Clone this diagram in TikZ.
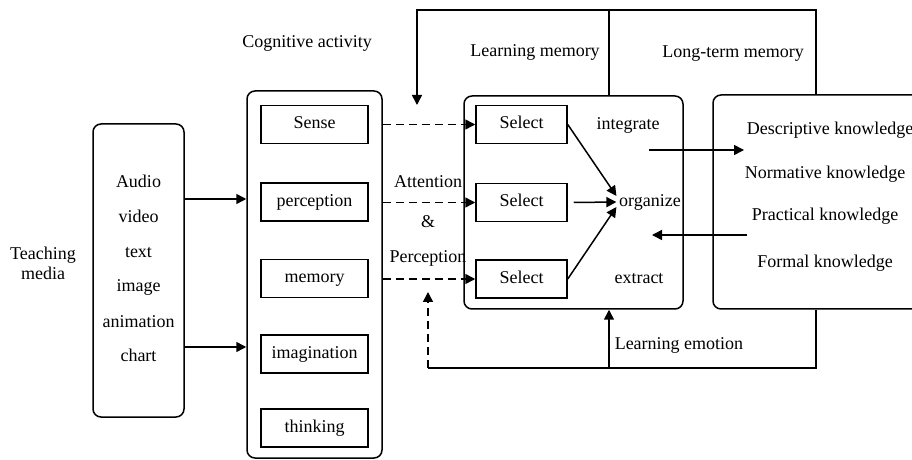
\documentclass[tikz,border=0pt]{standalone}
\usepackage{fontspec}
\setmainfont{Liberation Serif}
\usetikzlibrary{arrows.meta}
\begin{document}
\begin{tikzpicture}[x=0.5pt,y=-0.5pt, line width=0.75pt,
  every node/.style={font=\fontsize{9}{10}\selectfont, inner sep=1pt},
  txt/.style={text height=6.3pt, text depth=1.9pt},
  rbox/.style={draw, rounded corners=4pt, inner sep=0pt},
  sbox/.style={draw, txt, minimum width=53.5pt, minimum height=19pt, inner sep=0pt},
  selbox/.style={draw, txt, minimum width=45.5pt, minimum height=19pt, inner sep=0pt},
  arr/.style={-{Triangle[length=5pt,width=5pt]}},
  dsh/.style={dash pattern=on 4pt off 2.5pt}]
\clip (0,0) rectangle (912,460);
% big boxes
\node[rbox, minimum width=45.5pt, minimum height=146.5pt] (media) at (138.5,270.5) {};
\node[rbox, minimum width=67.5pt, minimum height=183.5pt] (cog) at (314.5,274.5) {};
\node[rbox, minimum width=109.5pt, minimum height=106.5pt] (learn) at (573.5,202.5) {};
\node[rbox, minimum width=123.5pt, minimum height=107pt] (know) at (836.5,202) {};
% media texts
\node[align=center] (tm) at (43,263) {Teaching\\media};
\foreach \t/\y [count=\i] in {Audio/183, video/218, text/253, image/287, animation/323, chart/357}
  \node[txt] (m\i) at (138.5,\y) {\t};
% cognitive
\node[txt] (cogl) at (307,43) {Cognitive activity};
\node[sbox] (sense) at (314.5,124.5) {Sense};
\node[sbox] (perc) at (314.5,202) {perception};
\node[sbox] (mem) at (314.5,278.5) {memory};
\node[sbox] (imag) at (314.5,354) {imagination};
\node[sbox] (think) at (314.5,428) {thinking};
% select
\node[selbox] (sel1) at (521.5,124.5) {Select};
\node[selbox] (sel2) at (521.5,202.5) {Select};
\node[selbox] (sel3) at (521.5,279) {Select};
% labels
\node[txt] (lm) at (535,52) {Learning memory};
\node[txt] (ltm) at (733,53) {Long-term memory};
\node[txt] (att) at (428,183) {Attention};
\node[txt] (amp) at (428,223) {\&};
\node[txt] (per) at (428,258) {Perception};
\node[txt] (integ) at (628,125) {integrate};
\node[txt] (org) at (650,202) {organize};
\node[txt] (extr) at (639,279) {extract};
\node[txt] (desc) at (830,130) {Descriptive knowledge};
\node[txt] (norm) at (825,174) {Normative knowledge};
\node[txt] (prac) at (825,216) {Practical knowledge};
\node[txt] (form) at (825,263) {Formal knowledge};
\node[txt, anchor=west] (emo) at (612,345) {Learning emotion};
% coordinates
\coordinate (a1) at (649,150);
\coordinate (a2) at (747,235);
\coordinate (tl) at (417,10);
\coordinate (bl) at (428,368);
% media -> cognitive
\draw[arr] (media.east |- 0,199) -- (cog.west |- 0,199);
\draw[arr] (media.east |- 0,347) -- (cog.west |- 0,347);
% dashed
\draw[arr, dsh] (cog.east |- sense) -- (sel1.west);
\draw[arr, dsh] (cog.east |- sel2) -- (sel2.west);
\draw[arr, dsh] (cog.east |- sel3) -- (sel3.west);
% select -> organize
\draw[arr] (sel1.east) -- ([yshift=3pt]org.west);
\draw[arr] ([xshift=3pt]sel2.east) -- (org.west);
\draw[arr] (sel3.east) -- ([yshift=-2.5pt]org.west);
% integrate <-> knowledge
\draw[arr] (a1) -- (desc.west |- a1);
\draw[arr] (a2) -- (652,235);
% top feedback
\draw[arr] (know.north -| 816,0) |- (tl) -- (417,105);
\draw (learn.north -| 609,0) -- (609,10);
% bottom feedback
\draw (know.south -| 816,0) |- (bl);
\draw[arr, dsh] (bl) -- (428,292);
\draw[arr] (609,368) -- (learn.south -| 609,0);
\end{tikzpicture}
\end{document}
